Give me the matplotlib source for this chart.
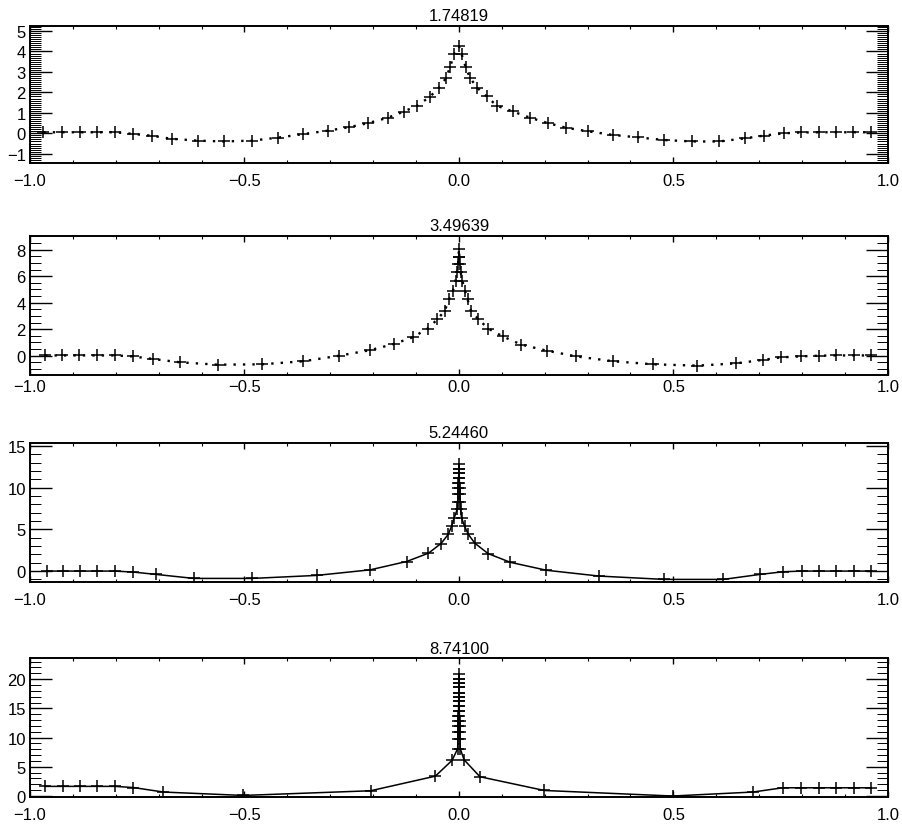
import matplotlib.pyplot as plt
from matplotlib.ticker import MultipleLocator

plt.rcParams['font.family'] = ['Liberation Sans', 'DejaVu Sans']

# times shown above each panel
titles = ["1.74819", "3.49639", "5.24460", "8.74100"]

# t = 1.74819
x1 = [-0.969, -0.926, -0.883, -0.845, -0.802, -0.761, -0.716, -0.670, -0.608, -0.548,
      -0.483, -0.421, -0.363, -0.305, -0.256, -0.211, -0.166, -0.129, -0.098, -0.068,
      -0.047, -0.030, -0.021, -0.011, 0.0, 0.006, 0.016, 0.026, 0.043, 0.065,
      0.088, 0.125, 0.166, 0.207, 0.250, 0.300, 0.359, 0.417, 0.479, 0.544,
      0.607, 0.666, 0.712, 0.759, 0.797, 0.840, 0.879, 0.918, 0.960]
y1 = [0.05, 0.05, 0.05, 0.05, 0.05, -0.03, -0.12, -0.27, -0.36, -0.40,
      -0.36, -0.21, -0.04, 0.13, 0.30, 0.50, 0.76, 1.06, 1.34, 1.78,
      2.22, 2.70, 3.22, 3.88, 4.26, 3.88, 3.22, 2.70, 2.22, 1.80,
      1.35, 1.07, 0.76, 0.50, 0.27, 0.10, -0.08, -0.20, -0.33, -0.40,
      -0.40, -0.25, -0.11, 0.0, 0.04, 0.05, 0.05, 0.05, 0.05]

# t = 3.49639
x2 = [-0.965, -0.926, -0.885, -0.845, -0.803, -0.761, -0.713, -0.650, -0.561, -0.460,
      -0.363, -0.279, -0.207, -0.152, -0.107, -0.073, -0.050, -0.033, -0.023, -0.014,
      -0.008, -0.004, -0.002, -0.001, 0.0, 0.001, 0.002, 0.004, 0.008, 0.014,
      0.020, 0.028, 0.045, 0.068, 0.102, 0.145, 0.205, 0.273, 0.360, 0.453,
      0.556, 0.646, 0.708, 0.750, 0.797, 0.840, 0.879, 0.921, 0.960]
y2 = [0.02, 0.02, 0.02, 0.02, 0.02, -0.05, -0.25, -0.50, -0.68, -0.65,
      -0.42, 0.0, 0.42, 0.88, 1.40, 2.05, 2.75, 3.40, 4.25, 4.91,
      5.66, 6.29, 6.92, 7.43, 8.05, 7.43, 6.92, 6.29, 5.66, 4.91,
      4.25, 3.40, 2.77, 2.05, 1.46, 0.84, 0.38, -0.05, -0.42, -0.65,
      -0.75, -0.58, -0.32, -0.13, -0.05, 0.0, 0.02, 0.02, 0.02]

# t = 5.24460
x3 = [-0.961, -0.922, -0.883, -0.843, -0.802, -0.759, -0.706, -0.618, -0.482, -0.332,
      -0.207, -0.122, -0.071, -0.042, -0.025, -0.017, -0.011, -0.004, -0.003, -0.0022,
      -0.0016, -0.0011, -0.0007, -0.0004, -0.0002, 0.0, 0.0002, 0.0004, 0.0007, 0.0011,
      0.0016, 0.0022, 0.003, 0.004, 0.006, 0.013, 0.022, 0.037, 0.068, 0.120,
      0.204, 0.327, 0.479, 0.616, 0.702, 0.756, 0.800, 0.840, 0.880, 0.921, 0.960]
y3 = [0.0, 0.0, 0.0, 0.0, 0.0, -0.12, -0.40, -0.88, -0.88, -0.52,
      0.15, 1.15, 2.15, 3.30, 4.40, 5.40, 6.41, 7.41, 8.33, 9.21,
      10.01, 10.61, 11.21, 11.73, 12.29, 12.80, 12.29, 11.73, 11.21, 10.61,
      10.01, 9.21, 8.33, 7.41, 6.41, 5.40, 4.40, 3.35, 2.10, 1.05,
      0.10, -0.60, -1.0, -1.0, -0.40, -0.08, 0.0, 0.0, 0.0, 0.0, 0.0]

# t = 8.74100
x4 = [-0.965, -0.924, -0.883, -0.843, -0.802, -0.759, -0.689, -0.503, -0.206, -0.055,
      -0.016, -0.003, -0.0025, -0.002, -0.0017, -0.0014, -0.0011, -0.0009, -0.0007, -0.0005,
      -0.0004, -0.0003, -0.0002, -0.0001, -0.00005, 0.0, 0.00005, 0.0001, 0.0002, 0.0003,
      0.0004, 0.0005, 0.0007, 0.0009, 0.0011, 0.0014, 0.0017, 0.002, 0.0025, 0.003,
      0.012, 0.049, 0.199, 0.498, 0.685, 0.755, 0.797, 0.840, 0.880, 0.920, 0.960]
y4 = [1.65, 1.65, 1.65, 1.65, 1.65, 1.45, 0.68, 0.10, 0.90, 3.40,
      6.10, 8.10, 9.80, 10.9, 11.9, 12.9, 13.7, 14.6, 15.4, 16.3,
      17.0, 17.7, 18.6, 19.4, 20.1, 20.8, 20.1, 19.4, 18.6, 17.7,
      17.0, 16.3, 15.4, 14.6, 13.7, 12.9, 11.9, 10.9, 9.80, 8.10,
      6.20, 3.30, 0.95, 0.0, 0.68, 1.41, 1.41, 1.41, 1.41, 1.41, 1.41]

xs = [x1, x2, x3, x4]
ys = [y1, y2, y3, y4]

# axes boxes in figure fractions, y limits, y tick steps, line style, x label pad
rects = [(0.0333, 0.802, 0.951, 0.1655),
         (0.0333, 0.546, 0.951, 0.168),
         (0.0333, 0.296, 0.951, 0.168),
         (0.0333, 0.036, 0.951, 0.168)]
ylims = [(-1.45, 5.25), (-1.45, 9.05), (-1.3, 15.4), (-0.2, 23.6)]
ymajor = [1, 2, 5, 5]
yminor = [0.1, 0.5, 1, 1]
styles = [(0, (1, 3)), (0, (1, 3)), '-', '-']
widths = [1.7, 1.7, 1.1, 1.1]
xpads = [7, 3, 7, 7]

fig = plt.figure(figsize=(9.02, 8.28), dpi=100)

for i in range(4):
    ax = fig.add_axes(rects[i])
    ax.plot(xs[i], ys[i], color='black', linestyle=styles[i], linewidth=widths[i],
            marker='+', markersize=8, markeredgewidth=1.1)
    ax.set_xlim(-1.0, 1.0)
    ax.set_ylim(*ylims[i])
    ax.set_title(titles[i], fontsize=12, pad=4)

    ax.xaxis.set_major_locator(MultipleLocator(0.5))
    ax.xaxis.set_minor_locator(MultipleLocator(0.1))
    ax.yaxis.set_major_locator(MultipleLocator(ymajor[i]))
    ax.yaxis.set_minor_locator(MultipleLocator(yminor[i]))
    ax.xaxis.set_major_formatter(lambda v, pos: f"{v:.1f}".replace("-", "\u2212"))
    ax.yaxis.set_major_formatter(lambda v, pos: f"{v:.0f}".replace("-", "\u2212"))

    ax.tick_params(axis='both', which='both', direction='in', top=True, right=True,
                   labelsize=12, color='black')
    ax.tick_params(axis='x', which='major', length=4, width=1, pad=xpads[i])
    ax.tick_params(axis='x', which='minor', length=2, width=0.8)
    ax.tick_params(axis='y', which='major', length=16, width=1, pad=3)
    ax.tick_params(axis='y', which='minor', length=8, width=0.7)
    for s in ax.spines.values():
        s.set_linewidth(1.4)

fig.savefig("out.png", dpi=100)
